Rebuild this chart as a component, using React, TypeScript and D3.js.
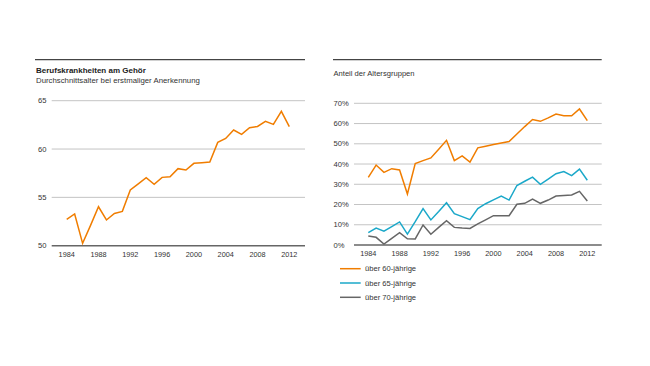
import React from "react";
import * as d3 from "d3";

const years = d3.range(1984, 2013);
const ageValues = [52.72, 53.28, 50.24, 52.1, 54.03, 52.66, 53.34, 53.55, 55.76, 56.4, 57.03, 56.35, 57.07, 57.14, 57.97, 57.83, 58.52, 58.59, 58.66, 60.69, 61.1, 61.97, 61.52, 62.2, 62.34, 62.86, 62.55, 63.9, 62.31];
const over60 = [33.4, 39.5, 35.9, 37.7, 37.1, 25.2, 40.2, 41.7, 43.0, 47.3, 51.7, 41.7, 44.0, 41.0, 48.0, 48.8, 49.6, 50.4, 51.1, 54.8, 58.5, 62.0, 61.1, 62.8, 64.7, 63.8, 63.8, 67.2, 61.4];
const over65 = [6.1, 8.4, 6.8, 9.1, 11.4, 5.4, 11.5, 18.0, 12.4, 16.5, 20.9, 15.5, 14.0, 12.5, 18.0, 20.4, 22.3, 24.2, 22.2, 29.4, 31.5, 33.5, 30.0, 32.6, 35.2, 36.3, 34.3, 37.5, 32.0];
const over70 = [4.4, 3.8, 0.5, 3.3, 6.1, 3.1, 3.0, 9.9, 5.3, 8.7, 12.0, 8.7, 8.4, 8.2, 10.4, 12.4, 14.5, 14.5, 14.5, 20.1, 20.6, 22.7, 20.6, 22.2, 24.2, 24.5, 24.7, 26.5, 21.7];
const ageTicks = [50, 55, 60, 65];
const pctTicks = [0, 10, 20, 30, 40, 50, 60, 70];
const yearTicks = [1984, 1988, 1992, 1996, 2000, 2004, 2008, 2012];
const seriesNames = ["über 60-jährige", "über 65-jährige", "über 70-jährige"];
const seriesColors = ["#f07d00", "#1ba8c9", "#666666"];

const FONT = "'Liberation Sans', Arial, Helvetica, sans-serif";
const TXT = "#333";

export default function App() {
  // Left chart
  const lx = d3.scaleLinear().domain([1984, 2012]).range([66.7, 289.3]);
  const ly = d3.scaleLinear().domain([50, 65]).range([245.7, 100.7]);
  const lLine = d3.line<number>().x((_, i) => lx(years[i])).y((d) => ly(d));

  // Right chart
  const rx = d3.scaleLinear().domain([1984, 2012]).range([368.3, 587.3]);
  const ry = d3.scaleLinear().domain([0, 70]).range([245, 103.3]);
  const rLine = d3.line<number>().x((_, i) => rx(years[i])).y((d) => ry(d));
  const rSeries = [over60, over65, over70];

  return (
    <svg width={650} height={366} style={{ position: "absolute", left: 0, top: 0, background: "#fff" }} fontFamily={FONT}>
      <rect width={650} height={366} fill="#fff" />
      {/* Left panel */}
      <line x1={35} x2={305} y1={59.7} y2={59.7} stroke="#444" strokeWidth={1.2} />
      <text x={36} y={73} fontSize={8} fontWeight="bold" fill="#222">Berufskrankheiten am Gehör</text>
      <text x={36} y={82.5} fontSize={7.8} fill={TXT}>Durchschnittsalter bei erstmaliger Anerkennung</text>
      {ageTicks.map((t) => (
        <g key={t}>
          <line x1={51.7} x2={305} y1={ly(t)} y2={ly(t)} stroke={t === 50 ? "#666" : "#bdbdbd"} strokeWidth={t === 50 ? 1.6 : 0.9} />
          <text x={38} y={ly(t) + 2.7} fontSize={7.6} fill={TXT}>{t}</text>
        </g>
      ))}
      {yearTicks.map((t) => (
        <text key={t} x={lx(t)} y={256.7} fontSize={7.3} fill={TXT} textAnchor="middle">{t}</text>
      ))}
      <path d={lLine(ageValues) || ""} fill="none" stroke="#f07d00" strokeWidth={1.5} strokeLinejoin="miter" />

      {/* Right panel */}
      <line x1={333} x2={601.7} y1={59.7} y2={59.7} stroke="#444" strokeWidth={1.2} />
      <text x={333.5} y={76} fontSize={7.6} fill={TXT}>Anteil der Altersgruppen</text>
      {pctTicks.map((t) => (
        <g key={t}>
          <line x1={354} x2={601.7} y1={ry(t)} y2={ry(t)} stroke={t === 0 ? "#666" : "#bdbdbd"} strokeWidth={t === 0 ? 1.6 : 0.9} />
          <text x={333.5} y={ry(t) + 2.7} fontSize={7.6} fill={TXT}>{t}%</text>
        </g>
      ))}
      {yearTicks.map((t) => (
        <text key={t} x={rx(t)} y={256.3} fontSize={7.3} fill={TXT} textAnchor="middle">{t}</text>
      ))}
      {rSeries.map((s, i) => (
        <path key={i} d={rLine(s) || ""} fill="none" stroke={seriesColors[i]} strokeWidth={1.5} />
      ))}
      {seriesNames.map((n, i) => (
        <g key={n}>
          <line x1={340} x2={360.7} y1={268.7 + i * 14.3} y2={268.7 + i * 14.3} stroke={seriesColors[i]} strokeWidth={1.5} />
          <text x={365} y={271.3 + i * 14.3} fontSize={7.6} fill={TXT}>{n}</text>
        </g>
      ))}
    </svg>
  );
}
